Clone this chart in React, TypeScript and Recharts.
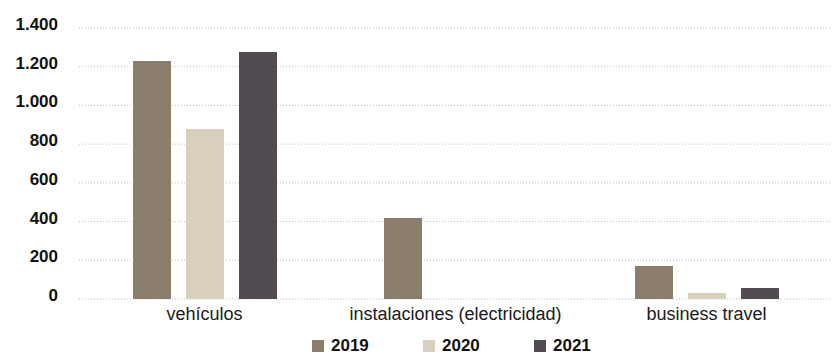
import { BarChart, Bar, XAxis, YAxis, CartesianGrid, Legend } from 'recharts';

const categories = ['vehículos', 'instalaciones (electricidad)', 'business travel'];
const sales2019 = [1229, 418, 170];
const sales2020 = [878, 0, 31];
const sales2021 = [1276, 0, 57];
const yTicks = [0, 200, 400, 600, 800, 1000, 1200, 1400];

const series = [
  { key: 'y2019', name: '2019', color: '#8b7d6b' },
  { key: 'y2020', name: '2020', color: '#d8cfbd' },
  { key: 'y2021', name: '2021', color: '#524b51' },
];

const data = categories.map((c, i) => ({
  name: c,
  y2019: sales2019[i],
  y2020: sales2020[i],
  y2021: sales2021[i],
}));

const FONT = '"Liberation Sans", Arial, sans-serif';

const fmt = (v: number) => v.toLocaleString('de-DE');

function YTick(props: any) {
  const { x, y, payload } = props;
  return (
    <text x={x} y={y - 4} dy="0.355em" textAnchor="end" fontFamily={FONT} fontSize={17} fontWeight={700} fill="#111">
      {fmt(payload.value)}
    </text>
  );
}

function LegendBox() {
  return (
    <div style={{ display: 'flex', fontFamily: FONT, lineHeight: '16px', height: 16 }}>
      {series.map((s) => (
        <div key={s.key} style={{ display: 'flex', alignItems: 'center', width: 111 }}>
          <span style={{ width: 12, height: 12, background: s.color, marginRight: 7 }} />
          <span style={{ fontSize: 17, fontWeight: 700, color: '#111' }}>{s.name}</span>
        </div>
      ))}
    </div>
  );
}

export default function App() {
  return (
    <div style={{ position: 'absolute', left: 0, top: 0, background: '#fff' }}>
      <BarChart
        width={833}
        height={354}
        data={data}
        margin={{ top: 28, right: 1, left: 0, bottom: 24 }}
        barSize={38}
        barGap={15}
      >
        <CartesianGrid vertical={false} stroke="#bdbdbd" strokeDasharray="1 2" />
        <XAxis
          dataKey="name"
          axisLine={false}
          tickLine={false}
          tickSize={0}
          tickMargin={8}
          height={31}
          tick={{ fontFamily: FONT, fontSize: 18, fill: '#1a1a1a' }}
        />
        <YAxis
          domain={[0, 1400]}
          ticks={yTicks}
          axisLine={false}
          tickLine={false}
          tickSize={0}
          tickMargin={21}
          width={79}
          tick={<YTick />}
        />
        <Legend
          verticalAlign="middle"
          align="center"
          layout="horizontal"
          wrapperStyle={{ top: 338, left: 312, width: 340, height: 16 }}
          content={<LegendBox />}
        />
        {series.map((s) => (
          <Bar key={s.key} dataKey={s.key} name={s.name} fill={s.color} isAnimationActive={false} />
        ))}
      </BarChart>
    </div>
  );
}
